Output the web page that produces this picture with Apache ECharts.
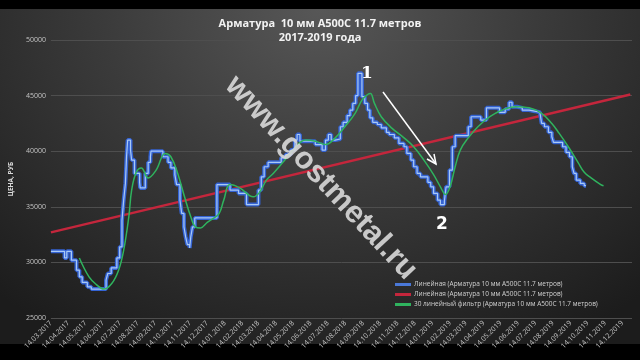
<!DOCTYPE html>
<html><head><meta charset="utf-8">
<script src="https://cdn.jsdelivr.net/npm/echarts@6/dist/echarts.min.js"></script>
<style>
html,body{margin:0;padding:0;background:#000;width:640px;height:360px;overflow:hidden;}
#bg{position:absolute;left:0;top:9px;width:640px;height:335px;background:radial-gradient(ellipse 75% 115% at 50% 0%, #575757 0%, #3b3b3b 45%, #1c1c1c 100%);}
#main{position:absolute;left:0;top:0;width:640px;height:360px;}
</style></head><body><div id="bg"></div><div id="main"></div>
<script>
const titleText = 'Арматура  10 мм А500С 11.7 метров';
const subtitleText = '2017-2019 года';
const yAxisName = 'ЦЕНА, РУБ';
const axisStart = '14.03.2017';
const axisEnd = '31.12.2019';
const yMin = 25000, yMax = 50000, yStep = 5000;
const nameBlue = 'Линейная (Арматура 10 мм А500С 11.7 метров)';
const nameRed = 'Линейная (Арматура 10 мм А500С 11.7 метров)\u200b';
const nameGreen = '30 линейный фильтр (Арматура 10 мм А500С 11.7 метров)';

const priceDates = ['14.03.2017','07.04.2017','11.04.2017','19.04.2017','28.04.2017','03.05.2017','08.05.2017','17.05.2017','24.05.2017','19.06.2017','22.06.2017','28.06.2017','08.07.2017','13.07.2017','17.07.2017','20.07.2017','23.07.2017','25.07.2017','27.07.2017','01.08.2017','03.08.2017','08.08.2017','17.08.2017','18.08.2017','27.08.2017','01.09.2017','05.09.2017','06.09.2017','27.09.2017','06.10.2017','11.10.2017','18.10.2017','21.10.2017','27.10.2017','30.10.2017','03.11.2017','06.11.2017','09.11.2017','13.11.2017','15.11.2017','18.11.2017','22.11.2017','31.12.2017','23.01.2018','07.02.2018','21.02.2018','14.03.2018','19.03.2018','24.03.2018','31.03.2018','23.04.2018','01.05.2018','10.05.2018','17.05.2018','21.05.2018','26.05.2018','22.06.2018','04.07.2018','10.07.2018','15.07.2018','20.07.2018','27.07.2018','05.08.2018','10.08.2018','17.08.2018','22.08.2018','27.08.2018','01.09.2018','05.09.2018','12.09.2018','17.09.2018','22.09.2018','26.09.2018','01.10.2018','09.10.2018','16.10.2018','25.10.2018','30.10.2018','08.11.2018','16.11.2018','25.11.2018','30.11.2018','07.12.2018','12.12.2018','18.12.2018','24.12.2018','06.01.2019','11.01.2019','16.01.2019','23.01.2019','28.01.2019','04.02.2019','07.02.2019','13.02.2019','18.02.2019','23.02.2019','18.03.2019','23.03.2019','09.04.2019','19.04.2019','12.05.2019','22.05.2019','29.05.2019','03.06.2019','12.06.2019','21.06.2019','03.07.2019','13.07.2019','22.07.2019','25.07.2019','30.07.2019','06.08.2019','12.08.2019','15.08.2019','31.08.2019','06.09.2019','12.09.2019','17.09.2019','20.09.2019','24.09.2019','01.10.2019','08.10.2019','11.10.2019'];
const priceValues = [31000,30400,31000,30200,29300,28700,28200,27800,27600,28400,29000,29500,30400,31400,33800,35600,37100,39500,41000,40100,39200,38000,37200,36700,38000,39000,39500,40000,39500,39000,38500,37900,37000,35600,34400,33200,32300,31600,31300,32300,33200,34000,37000,36500,36200,35200,36500,37700,38600,39000,39400,39700,40100,41000,41500,40900,40600,40100,41000,41500,41000,41100,42200,42600,43200,43700,44300,45000,47000,44900,44300,43700,43000,42600,42400,42100,41700,41500,41200,40700,40400,39800,39200,38600,38000,37700,37200,36800,36200,35600,35200,35500,36800,38300,40400,41400,42200,43100,42800,43900,43500,43800,44400,44000,43900,43700,43600,43500,43400,42500,42200,41700,41300,40800,40400,39900,39500,38600,38000,37400,37100,36900,36900];

const filterDates = ['03.05.2017','20.05.2017','02.06.2017','15.06.2017','29.06.2017','11.07.2017','20.07.2017','29.07.2017','03.08.2017','11.08.2017','20.08.2017','01.09.2017','15.09.2017','01.10.2017','11.10.2017','23.10.2017','04.11.2017','15.11.2017','23.11.2017','02.12.2017','14.12.2017','26.12.2017','04.01.2018','12.01.2018','23.01.2018','09.02.2018','05.03.2018','16.03.2018','28.03.2018','09.04.2018','26.04.2018','14.05.2018','05.06.2018','22.06.2018','10.07.2018','27.07.2018','13.08.2018','31.08.2018','12.09.2018','22.09.2018','27.09.2018','04.10.2018','16.10.2018','03.11.2018','25.11.2018','12.12.2018','30.12.2018','16.01.2019','28.01.2019','06.02.2019','14.02.2019','23.02.2019','04.03.2019','18.03.2019','04.04.2019','25.04.2019','17.05.2019','09.06.2019','03.07.2019','25.07.2019','12.08.2019','25.08.2019','10.09.2019','27.09.2019','08.10.2019','20.10.2019','06.11.2019','11.11.2019'];
const filterValues = [30400,28700,28000,27600,28100,29300,31100,34100,36500,38100,38500,37600,38300,39800,39500,38000,35900,34100,33200,33100,33600,34000,34400,35600,37000,36700,35900,36300,37400,38000,39000,40100,41000,40900,40600,41200,42200,43400,44600,45100,45200,44300,43100,42100,41200,40400,39200,37900,36800,36100,36800,38600,40100,41200,42200,43100,43700,44000,43900,43400,42500,41600,40400,39000,38100,37600,37000,36900];

const trendDates = ['14.03.2017','28.12.2019'];
const trendValues = [32700, 45100];

// daily category axis
function pad(n){return (n<10?'0':'')+n;}
function parseD(s){const p=s.split('.');return Date.UTC(+p[2],+p[1]-1,+p[0]);}
const categories = [];
for (let t = parseD(axisStart); t <= parseD(axisEnd); t += 86400000) {
  const d = new Date(t);
  categories.push(pad(d.getUTCDate())+'.'+pad(d.getUTCMonth()+1)+'.'+d.getUTCFullYear());
}
const idx = {}; categories.forEach((c,i)=>idx[c]=i);
const toPairs = (ds, vs) => ds.map((d,i)=>[idx[d], vs[i]]);

const chart = echarts.init(document.getElementById('main'), null, {renderer:'canvas'});
const FONT = '"Open Sans", "Noto Sans", sans-serif';

chart.setOption({
  backgroundColor: 'transparent',
  animation: false,
  title: {
    text: titleText + '\n' + subtitleText,
    left: 'center', top: 12,
    textStyle: {color:'#f2f2f2', fontSize: 11, fontWeight:'bold', fontFamily: FONT, lineHeight: 14}
  },
  grid: {left: 41, right: 8, top: 40, bottom: 42, containLabel: false},
  legend: {
    orient: 'vertical', left: 390, top: 276, itemGap: 3,
    itemWidth: 16, itemHeight: 3, icon: 'rect',
    data: [nameBlue, nameRed, nameGreen],
    formatter: n => n.replace('\u200b',''),
    textStyle: {color:'#d0d0d0', fontSize: 6.5, fontFamily: FONT, padding:[0,0,0,-2]}
  },
  xAxis: {
    type: 'category', data: categories, boundaryGap: false,
    axisLine: {show: false}, axisTick: {show: false}, splitLine: {show:false},
    axisLabel: {
      interval: (i, v) => v.slice(0,3) === '14.',
      rotate: 45, color: '#c4c4c4', fontSize: 7, margin: 4, fontFamily: FONT
    }
  },
  yAxis: {
    type: 'value', min: yMin, max: yMax, interval: yStep,
    name: yAxisName, nameLocation: 'middle', nameGap: 31, nameRotate: 90,
    nameTextStyle: {color:'#d8d8d8', fontSize: 6.5, fontWeight:'bold', fontFamily: FONT},
    axisLine: {show:false}, axisTick:{show:false},
    axisLabel: {color:'#c4c4c4', fontSize: 7, margin: 5, fontFamily: FONT, formatter: v => String(v)},
    splitLine: {lineStyle: {color:'#4e4e4e', width: 1}}
  },
  series: [
    {name: nameRed, type:'line', data: toPairs(trendDates, trendValues), showSymbol:false,
     lineStyle:{color:'#c4263c', width: 2.5}, itemStyle:{color:'#c4263c'}, z: 2},
    {name: nameBlue, type:'line', step:'end', data: toPairs(priceDates, priceValues), showSymbol:false,
     lineStyle:{color:'#3463d4', width: 4}, itemStyle:{color:'#4a78d8'}, z: 3},
    {name: 'inner', type:'line', step:'end', data: toPairs(priceDates, priceValues), showSymbol:false,
     lineStyle:{color:'#a9c9f5', width: 1.2}, z: 4, silent: true},
    {name: nameGreen, type:'line', smooth: 0.4, data: toPairs(filterDates, filterValues), showSymbol:false,
     lineStyle:{color:'#2fb35e', width: 1.5}, itemStyle:{color:'#2fb35e'}, z: 5}
  ],
  graphic: [
    {type:'text', x: 321, y: 178, rotation: -47*Math.PI/180, z: 100,
     style:{text:'www.gostmetal.ru', fontSize: 31, fontWeight:'bold', fontFamily:'"Liberation Sans", Arial, sans-serif',
            fill:'rgba(214,214,214,0.92)', align:'center', verticalAlign:'middle'}},
    {type:'text', x: 367, y: 74, z: 100,
     style:{text:'1', fontSize: 17, fontWeight:'bold', fontFamily:'"DejaVu Serif", serif', fill:'#ffffff', align:'center', verticalAlign:'middle'}},
    {type:'text', x: 442, y: 225, z: 100,
     style:{text:'2', fontSize: 17, fontWeight:'bold', fontFamily:'"DejaVu Sans", sans-serif', fill:'#ffffff', align:'center', verticalAlign:'middle'}},
    {type:'line', z: 100, shape:{x1: 383, y1: 92, x2: 436, y2: 164}, style:{stroke:'#ffffff', lineWidth: 1.5}},
    {type:'polyline', z: 100, shape:{points:[[434,154],[436,164],[427,159]]}, style:{stroke:'#ffffff', lineWidth: 1.5, fill: null}}
  ]
});
</script></body></html>
